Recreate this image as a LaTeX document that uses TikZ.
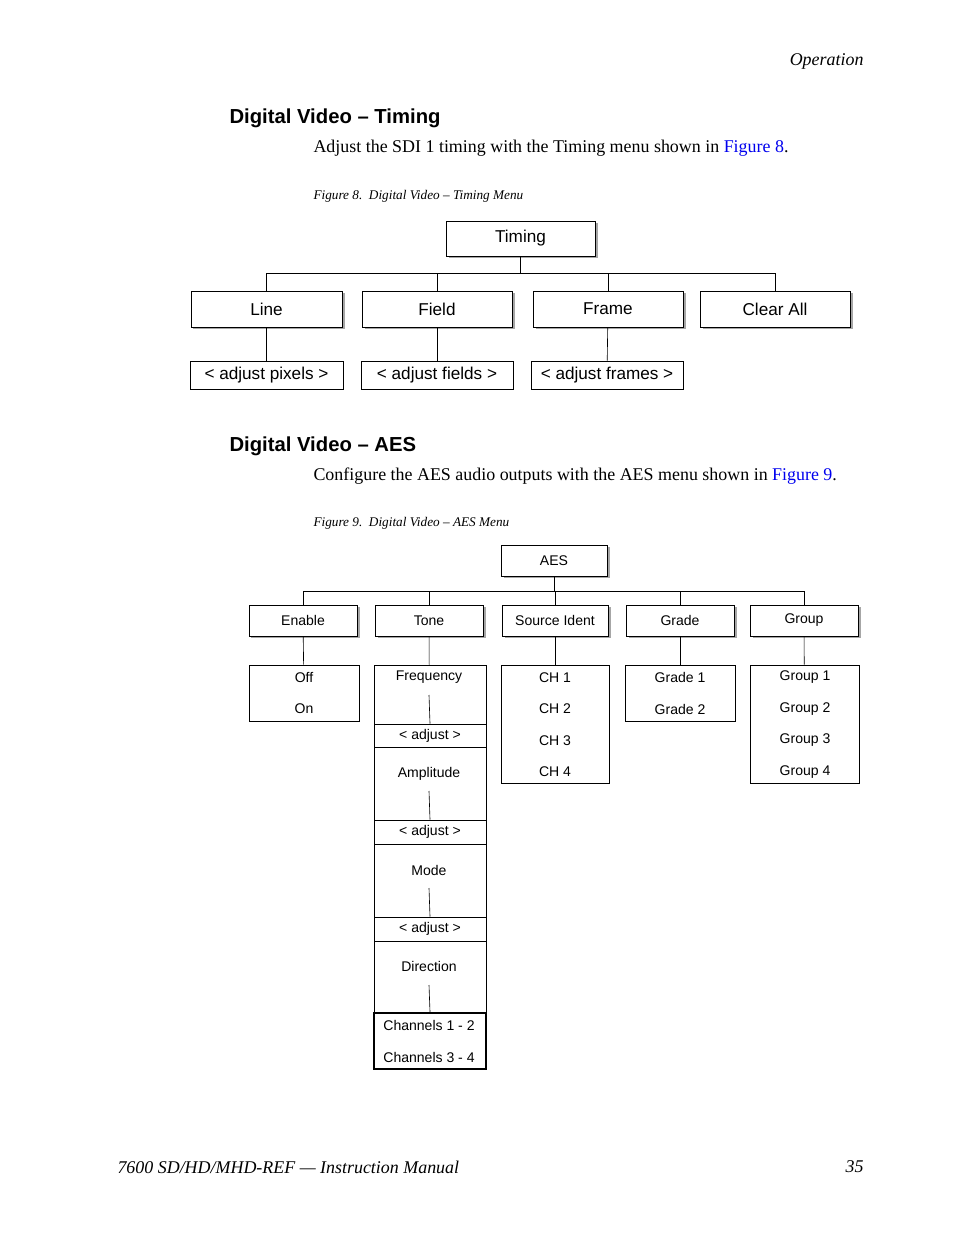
\documentclass[tikz,border=0pt]{standalone}
\usepackage{fontspec}
\setmainfont{Liberation Serif}
\setsansfont{Liberation Sans}
\usetikzlibrary{shadows}
\newlength\px
\setlength\px{0.6414pt}
\tikzset{
  menubox/.style = {draw, fill = white, inner sep = 0pt, font = \sffamily\fontsize{11}{13}\selectfont,
                    drop shadow = {shadow xshift = 1.6pt, shadow yshift = -1.6pt, fill = gray!70, opacity = 1}},
  leafbox/.style = {draw, fill = white, inner sep = 0pt, font = \sffamily\fontsize{11}{13}\selectfont},
  aesbox/.style = {menubox, font = \sffamily\fontsize{9}{11}\selectfont},
  listbox/.style = {draw, fill = white, inner sep = 0pt},
  item/.style = {font = \sffamily\fontsize{9}{11}\selectfont, inner sep = 0pt},
  heading/.style = {anchor = west, font = \sffamily\bfseries\fontsize{13}{15}\selectfont},
  body/.style = {anchor = west, font = \fontsize{11.5}{14}\selectfont},
  caption/.style = {anchor = west, font = \itshape\fontsize{8.5}{10}\selectfont},
}
\definecolor{linkblue}{RGB}{0,0,238}
\begin{document}
\begin{tikzpicture}[x = 0.6414pt, y = -0.6414pt]
  \useasboundingbox (0,0) rectangle (954,1235);
  % page text
  \node[anchor = east, font = \itshape\fontsize{11.5}{14}\selectfont] (hdr) at (869,61) {Operation};
  \node[heading] (headTiming) at (224,118) {Digital Video -- Timing};
  \node[body] (txtTiming) at (308,148) {Adjust the SDI 1 timing with the Timing menu shown in \textcolor{linkblue}{Figure 8}.};
  \node[caption] (capTiming) at (308,196) {Figure 8.\enspace Digital Video -- Timing Menu};
  \node[heading] (headAes) at (224,446) {Digital Video -- AES};
  \node[body] (txtAes) at (308,476) {Configure the AES audio outputs with the AES menu shown in \textcolor{linkblue}{Figure 9}.};
  \node[caption] (capAes) at (308,523) {Figure 9.\enspace Digital Video -- AES Menu};
  \node[anchor = west, font = \itshape\fontsize{11.5}{14}\selectfont] (ftrL) at (112,1167) {7600 SD/HD/MHD-REF --- Instruction Manual};
  \node[anchor = east, font = \itshape\fontsize{11.5}{14}\selectfont] (ftrR) at (869,1167) {35};

  % Timing menu
  \node[menubox, minimum width = 149\px, minimum height = 35\px] (timing) at (520.5,238.5) {Timing};
  \node[menubox, minimum width = 151\px, minimum height = 36\px] (line) at (266.5,309) {Line};
  \node[menubox, minimum width = 150\px, minimum height = 36\px] (field) at (437,309) {Field};
  \node[menubox, minimum width = 150\px, minimum height = 36\px] (frame) at (608,309) {Frame};
  \node[menubox, minimum width = 150\px, minimum height = 36\px] (clear) at (775,309) {Clear All};
  \node[leafbox, minimum width = 153\px, minimum height = 28\px] (pixels) at (266.5,375) {< adjust pixels >};
  \node[leafbox, minimum width = 152\px, minimum height = 28\px] (fields) at (437,375) {< adjust fields >};
  \node[leafbox, minimum width = 152\px, minimum height = 28\px] (frames) at (607,375) {< adjust frames >};
  \draw (timing.south) -- (timing.south |- 0,273);
  \draw (line.north) |- (clear.north |- 0,273) -- (clear.north);
  \draw (field.north) -- (field.north |- 0,273);
  \draw (frame.north) -- (frame.north |- 0,273);
  \draw (line) -- (pixels);
  \draw (field) -- (fields);
  \draw (frame) -- (frames);

  % AES menu
  \node[aesbox, minimum width = 106\px, minimum height = 31\px] (aes) at (554,560.5) {AES};
  \node[aesbox, minimum width = 108\px, minimum height = 31\px] (enable) at (303,620.5) {Enable};
  \node[aesbox, minimum width = 108\px, minimum height = 31\px] (tone) at (429,620.5) {Tone};
  \node[aesbox, minimum width = 106\px, minimum height = 31\px] (source) at (555,620.5) {Source Ident};
  \node[aesbox, minimum width = 108\px, minimum height = 31\px] (grade) at (680,620.5) {Grade};
  \node[aesbox, minimum width = 108\px, minimum height = 31\px] (group) at (804,620.5) {Group};
  \draw (aes.south) -- (aes.south |- 0,591);
  \draw (enable.north) |- (group.north |- 0,591) -- (group.north);
  \draw (tone.north) -- (tone.north |- 0,591);
  \draw (source.north) -- (source.north |- 0,591);
  \draw (grade.north) -- (grade.north |- 0,591);

  % AES lists
  \node[listbox, minimum width = 110\px, minimum height = 56\px] (enableList) at (304,693) {};
  \node[listbox, minimum width = 112\px, minimum height = 404\px] (toneList) at (430,867) {};
  \node[listbox, minimum width = 108\px, minimum height = 118\px] (sourceList) at (555,724) {};
  \node[listbox, minimum width = 110\px, minimum height = 56\px] (gradeList) at (680,693) {};
  \node[listbox, minimum width = 109\px, minimum height = 118\px] (groupList) at (804.5,724) {};
  \draw (enable) -- (enableList);
  \draw (tone) -- (toneList);
  \draw (source) -- (sourceList);
  \draw (grade) -- (gradeList);
  \draw (group) -- (groupList);

  \node[item] (off) at (304,677) {Off};
  \node[item] (on) at (304,709) {On};
  \foreach \n in {1, ..., 4} {
    \node[item] (ch\n) at (555,646+31.5*\n) {CH \n};
    \node[item] (grp\n) at (805,646+31.5*\n) {Group \n};
  }
  \node[item] (grade1) at (680,677) {Grade 1};
  \node[item] (grade2) at (680,709) {Grade 2};

  % Tone column
  \node[item] (freq) at (429,677) {Frequency};
  \node[listbox, item, minimum width = 112\px, minimum height = 23\px] (adj1) at (430,735.5) {< adjust >};
  \node[item] (ampl) at (429,774) {Amplitude};
  \node[listbox, item, minimum width = 112\px, minimum height = 24\px] (adj2) at (430,832) {< adjust >};
  \node[item] (mode) at (429,870) {Mode};
  \node[listbox, item, minimum width = 112\px, minimum height = 24\px] (adj3) at (430,929) {< adjust >};
  \node[item] (dir) at (429,966) {Direction};
  \node[draw, line width = 1.2pt, minimum width = 112\px, minimum height = 56\px] (chanBox) at (430,1041) {};
  \node[item] (chan12) at (429,1025) {Channels 1 - 2};
  \node[item] (chan34) at (429,1057) {Channels 3 - 4};
  \draw (429,695) -- (adj1.north);
  \draw (429,791) -- (adj2.north);
  \draw (429,888) -- (adj3.north);
  \draw (429,985) -- (chanBox.north);
\end{tikzpicture}
\end{document}
